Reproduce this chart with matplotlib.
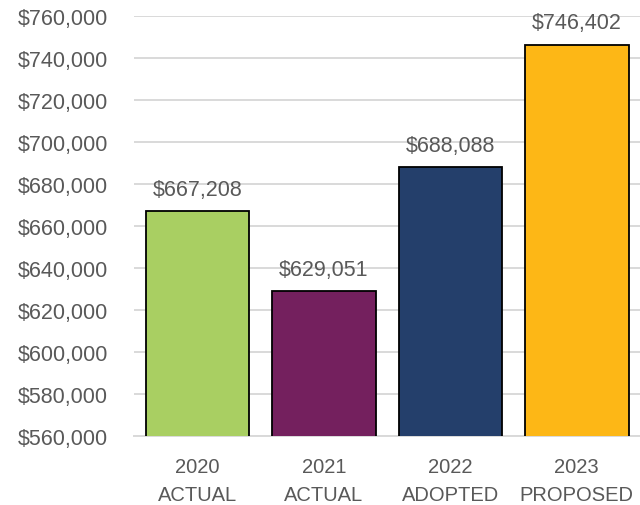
import matplotlib.pyplot as plt
from matplotlib.ticker import FuncFormatter

years = ["2020", "2021", "2022", "2023"]
stages = ["ACTUAL", "ACTUAL", "ADOPTED", "PROPOSED"]
amounts = [667208, 629051, 688088, 746402]
bar_colors = ["#A9CF62", "#74205E", "#243F6B", "#FDB716"]

TEXT = "#595959"

plt.rcParams["font.family"] = ["Liberation Sans", "DejaVu Sans"]


def main():
    fig = plt.figure(figsize=(6.4, 5.06), dpi=100)
    ax = fig.add_axes([0.21, 0.1364, 0.79, 0.83])

    labels = [f"{y}\n{s}" for y, s in zip(years, stages)]
    x = range(len(amounts))
    bars = ax.bar(x, amounts, width=0.82, color=bar_colors,
                  edgecolor="black", linewidth=1.3, zorder=3)

    for rect, val in zip(bars, amounts):
        ax.annotate(f"${val:,}", (rect.get_x() + rect.get_width() / 2, val),
                    xytext=(0, 8), textcoords="offset points",
                    ha="center", va="bottom", fontsize=15.5, color=TEXT)

    ax.set_ylim(560000, 760000)
    ax.set_yticks(range(560000, 760001, 20000))
    ax.yaxis.set_major_formatter(FuncFormatter(lambda v, p: f"${v:,.0f}"))
    ax.set_xlim(-0.5, len(amounts) - 0.5)
    ax.set_xticks(list(x))
    ax.set_xticklabels(labels, linespacing=1.62)

    ax.grid(axis="y", color="#D9D9D9", linewidth=1.4, zorder=0)
    for side in ["top", "right", "left"]:
        ax.spines[side].set_visible(False)
    ax.spines["bottom"].set_color("#D9D9D9")
    ax.spines["bottom"].set_linewidth(1.4)

    ax.tick_params(axis="y", length=0, pad=19, labelsize=15.5, labelcolor=TEXT)
    ax.tick_params(axis="x", length=0, pad=15, labelsize=14.5, labelcolor=TEXT)

    fig.savefig("out.png", dpi=100)


if __name__ == "__main__":
    main()
